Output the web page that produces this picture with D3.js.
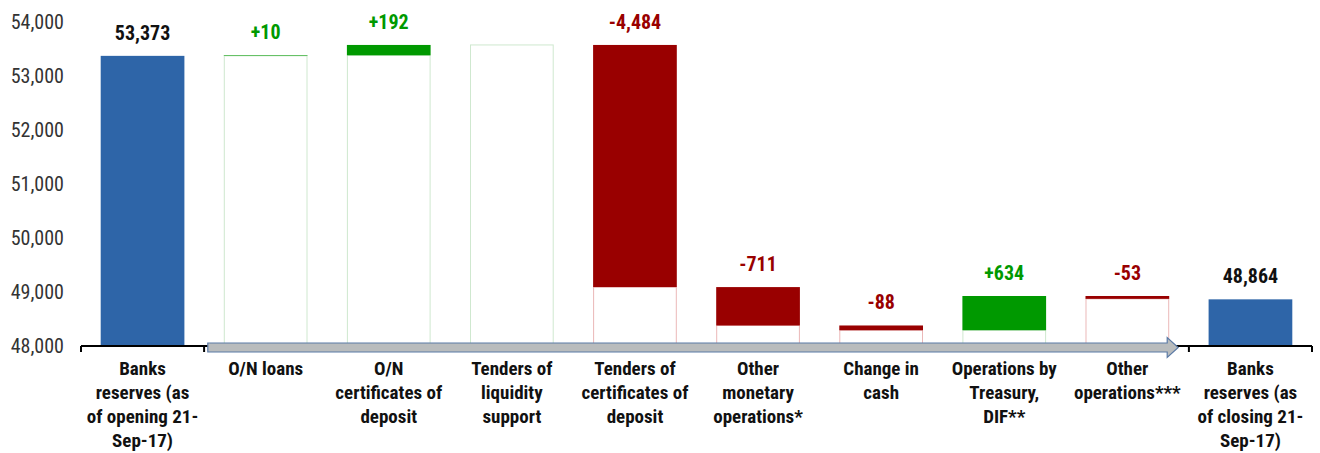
<!DOCTYPE html>
<html>
<head>
<meta charset="utf-8">
<script src="https://cdn.jsdelivr.net/npm/d3@7"></script>
<style>
  body { margin: 0; background: #fff; }
  #chart { width: 1320px; height: 453px; }
  text { font-family: "Liberation Sans Narrow", "Arial Narrow", "Roboto Condensed", "Liberation Sans", sans-serif; }
</style>
</head>
<body>
<div id="chart"></div>
<script>
const categories = [
    "Banks\nreserves (as\nof opening 21-\nSep-17)",
    "O/N loans",
    "O/N\ncertificates of\ndeposit",
    "Tenders of\nliquidity\nsupport",
    "Tenders of\ncertificates of\ndeposit",
    "Other\nmonetary\noperations*",
    "Change in\ncash",
    "Operations by\nTreasury,\nDIF**",
    "Other\noperations***",
    "Banks\nreserves (as\nof closing 21-\nSep-17)"
];
const openingValue = 53373;
const deltas = [10, 192, 0, -4484, -711, -88, 634, -53];
const closingValue = 48864;
const yTicks = [48000, 49000, 50000, 51000, 52000, 53000, 54000];

function renderChart(selector = "#chart") {
    const container = d3.select(selector);
    container.html("");

    const width = 1320;
    const height = 453;

    const svg = container.append("svg")
        .attr("width", width)
        .attr("height", height);

    const locale = d3.formatLocale({ decimal: ".", thousands: ",", grouping: [3], currency: ["", ""], minus: "-" });
    const fmt = locale.format(",");
    const fmtSigned = locale.format("+,");

    // build waterfall rows
    const rows = [];
    rows.push({ cat: categories[0], type: "total", lo: 48000, hi: openingValue, value: openingValue });
    let level = openingValue;
    deltas.forEach((d, i) => {
        const next = level + d;
        rows.push({ cat: categories[i + 1], type: d >= 0 ? "up" : "down", lo: Math.min(level, next), hi: Math.max(level, next), value: d });
        level = next;
    });
    rows.push({ cat: categories[9], type: "total", lo: 48000, hi: closingValue, value: closingValue });

    const x = d3.scaleBand()
        .domain(categories)
        .range([81, 1312])
        .paddingInner(0.32)
        .paddingOuter(0.16);

    const y = d3.scaleLinear()
        .domain([48000, 54000])
        .range([346, 22]);

    const fills = { total: "#2e65a8", up: "#009900", down: "#990000" };
    const ghost = { up: "#cfe8cf", down: "#ebb8b8" };

    // y labels
    svg.append("g")
        .selectAll("text")
        .data(yTicks)
        .join("text")
        .attr("x", 64)
        .attr("y", d => y(d) + 7)
        .attr("text-anchor", "end")
        .attr("font-size", 20)
        .attr("fill", "#333")
        .text(d => fmt(d));

    // invisible base bars (outlined)
    svg.append("g")
        .selectAll("rect")
        .data(rows.filter(r => r.type !== "total"))
        .join("rect")
        .attr("x", d => x(d.cat) + 0.5)
        .attr("y", d => y(d.lo))
        .attr("width", x.bandwidth() - 1)
        .attr("height", d => y(48000) - y(d.lo))
        .attr("fill", "#fff")
        .attr("stroke", d => ghost[d.type])
        .attr("stroke-width", 1);

    // visible bars
    svg.append("g")
        .selectAll("rect")
        .data(rows)
        .join("rect")
        .attr("x", d => x(d.cat))
        .attr("y", d => y(d.hi))
        .attr("width", x.bandwidth())
        .attr("height", d => y(d.lo) - y(d.hi))
        .attr("fill", d => fills[d.type])
        .attr("opacity", d => d.value === 0 ? 0 : 1);

    // value labels
    svg.append("g")
        .selectAll("text")
        .data(rows.filter(r => r.value !== 0))
        .join("text")
        .attr("x", d => x(d.cat) + x.bandwidth() / 2)
        .attr("y", d => y(d.hi) - 16)
        .attr("text-anchor", "middle")
        .attr("font-size", 20)
        .attr("font-weight", "bold")
        .attr("fill", d => d.type === "total" ? "#111" : fills[d.type])
        .text(d => d.type === "total" ? fmt(d.value) : fmtSigned(d.value));

    // x axis
    const xAxis = svg.append("g")
        .attr("transform", `translate(0,${y(48000)})`);
    xAxis.append("line")
        .attr("x1", 81).attr("x2", 1312)
        .attr("stroke", "#000").attr("stroke-width", 2);
    xAxis.selectAll(".tk")
        .data(d3.range(categories.length + 1))
        .join("line")
        .attr("class", "tk")
        .attr("x1", i => 81 + i * x.step())
        .attr("x2", i => 81 + i * x.step())
        .attr("y1", 0).attr("y2", 6)
        .attr("stroke", "#000").attr("stroke-width", 2);

    // arrow across flow categories
    const ax0 = x(categories[1]) - 16;
    const ax1 = x(categories[8]) + x.bandwidth() + 9;
    const ay = y(48000) + 1.5;
    const arrow = [
        [ax0, ay - 4.5], [ax1 - 11, ay - 4.5], [ax1 - 11, ay - 10],
        [ax1, ay], [ax1 - 11, ay + 10], [ax1 - 11, ay + 4.5], [ax0, ay + 4.5]
    ];
    svg.append("path")
        .attr("d", d3.line()(arrow) + "Z")
        .attr("fill", "#b9bcbd")
        .attr("stroke", "#5b7aa6")
        .attr("stroke-width", 1.2);

    // category labels
    svg.append("g")
        .selectAll("text")
        .data(categories)
        .join("text")
        .attr("x", d => x(d) + x.bandwidth() / 2)
        .attr("y", 375)
        .attr("text-anchor", "middle")
        .attr("font-size", 19)
        .attr("font-weight", "bold")
        .attr("fill", "#111")
        .each(function(d) {
            const t = d3.select(this);
            d.split("\n").forEach((line, i) => {
                t.append("tspan")
                    .attr("x", x(d) + x.bandwidth() / 2)
                    .attr("dy", i === 0 ? 0 : 24)
                    .text(line);
            });
        });
}

renderChart();
</script>
</body>
</html>
